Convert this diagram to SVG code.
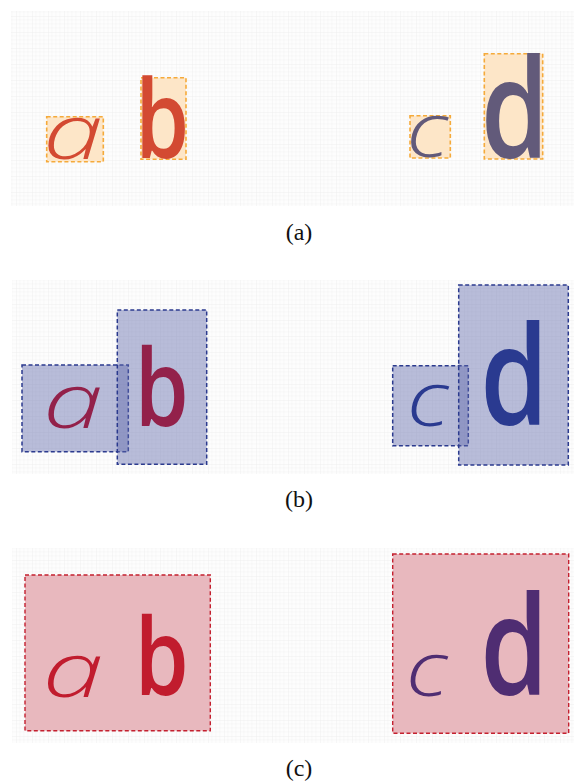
<svg xmlns="http://www.w3.org/2000/svg" width="574" height="783" viewBox="0 0 574 783">
<defs>
<pattern id="grid" x="0" y="0" width="16" height="16" patternUnits="userSpaceOnUse">
<rect width="16" height="16" fill="#fdfdfd"/>
<path d="M4 0V16M8 0V16M12 0V16M0 4H16M0 8H16M0 12H16" stroke="#f4f4f4" stroke-width="0.6" fill="none"/>
<path d="M0 0V16M0 0H16" stroke="#ececec" stroke-width="0.8" fill="none"/>
</pattern>
<style>
.panel{fill:url(#grid)}
.cap{font-family:"Liberation Serif",serif;font-size:24px;fill:#111;text-anchor:middle}
.thin{font-family:"Open Sans","Liberation Serif",serif;font-style:italic;font-weight:300}
.bold{font-family:"Open Sans","Liberation Sans",sans-serif;font-weight:600}
.boxA{fill:#fde6c8;stroke:#f5aa3a;stroke-width:1.6;stroke-dasharray:4 2.5}
.boxB{fill:#5f68aa;fill-opacity:0.44;stroke:#2b3a8e;stroke-width:1.5;stroke-dasharray:4 2.5}
.boxC{fill:#e8b8be;stroke:#c4202f;stroke-width:1.4;stroke-dasharray:4 2.5}
.ra{fill:#d34a32}.ga{fill:#625a7a}
.rb{fill:#93214a}.gb{fill:#2a3a90}
.rc{fill:#c11c2e}.gc{fill:#4f2d72}
</style>
</defs>
<rect width="574" height="783" fill="#ffffff"/>
<rect class="panel" x="11" y="11" width="563" height="195"/>
<rect class="panel" x="12" y="280" width="562" height="194"/>
<rect class="panel" x="12" y="548" width="562" height="195"/>

<g id="panel-a">
<g id="a1"><rect class="boxA" x="46.7" y="116.7" width="56.6" height="45"/><text class="thin ra" x="43" y="159" font-size="75" textLength="60" lengthAdjust="spacingAndGlyphs">a</text></g>
<g id="b1"><rect class="boxA" x="141" y="77.7" width="45" height="81.6"/><text class="bold ra" x="135.2" y="158" font-size="108" textLength="54" lengthAdjust="spacingAndGlyphs">b</text></g>
<g id="c1"><rect class="boxA" x="410" y="115.7" width="40.3" height="42.3"/><text class="thin ga" x="406.3" y="157" font-size="75" textLength="42" lengthAdjust="spacingAndGlyphs">c</text></g>
<g id="d1"><rect class="boxA" x="484.3" y="53.7" width="58.4" height="105.3"/><text class="bold ga" x="480.8" y="157.5" font-size="138" textLength="68" lengthAdjust="spacingAndGlyphs">d</text></g>
</g>
<text class="cap" x="299" y="240">(a)</text>

<g id="panel-b">
<g id="a2"><rect class="boxB" x="22" y="365" width="106.3" height="86.7"/><text class="thin rb" x="43" y="428" font-size="75" textLength="60" lengthAdjust="spacingAndGlyphs">a</text></g>
<g id="b2"><rect class="boxB" x="117.3" y="310" width="89.4" height="154.3"/><text class="bold rb" x="134.7" y="426" font-size="107" textLength="54" lengthAdjust="spacingAndGlyphs">b</text></g>
<g id="c2"><rect class="boxB" x="392.7" y="365.7" width="75.6" height="80"/><text class="thin gb" x="406.8" y="426" font-size="75" textLength="42" lengthAdjust="spacingAndGlyphs">c</text></g>
<g id="d2"><rect class="boxB" x="458.7" y="285" width="109.6" height="180"/><text class="bold gb" x="480.3" y="424.5" font-size="137" textLength="68" lengthAdjust="spacingAndGlyphs">d</text></g>
</g>
<text class="cap" x="299" y="507">(b)</text>

<g id="panel-c">
<g id="ab3"><rect class="boxC" x="25" y="575" width="185.3" height="155.7"/><text class="thin rc" x="42.5" y="697" font-size="76" textLength="61" lengthAdjust="spacingAndGlyphs">a</text><text class="bold rc" x="134.7" y="695" font-size="106" textLength="54" lengthAdjust="spacingAndGlyphs">b</text></g>
<g id="cd3"><rect class="boxC" x="392.7" y="554" width="176" height="179.3"/><text class="thin gc" x="405.8" y="696" font-size="76" textLength="42" lengthAdjust="spacingAndGlyphs">c</text><text class="bold gc" x="480.3" y="694.5" font-size="138" textLength="68" lengthAdjust="spacingAndGlyphs">d</text></g>
</g>
<text class="cap" x="299" y="776">(c)</text>
</svg>
